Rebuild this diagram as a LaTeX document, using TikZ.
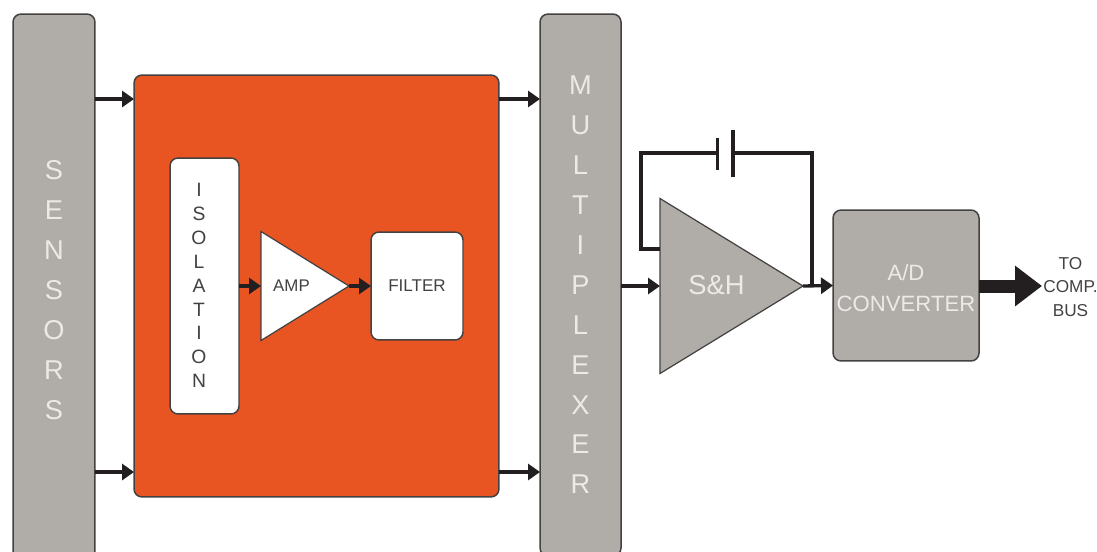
\documentclass[tikz,border=0pt]{standalone}
\usepackage{fontspec}
\setmainfont{Liberation Sans}
\usetikzlibrary{arrows.meta, shapes.geometric}

\definecolor{panelgrey}{HTML}{B0ADA8}
\definecolor{boardorange}{HTML}{E95522}
\definecolor{inkdark}{HTML}{231F20}
\definecolor{labelwhite}{HTML}{ECEAE6}

\tikzset{
	block/.style={draw=inkdark!85, line width=0.85pt, rounded corners=0.16cm, inner sep=0pt, outer sep=0pt, align=center},
	greyblock/.style={block, fill=panelgrey, text=labelwhite},
	whiteblock/.style={block, fill=white, text=inkdark!85},
	amptri/.style={draw=inkdark!85, line width=0.7pt, isosceles triangle, isosceles triangle stretches, inner sep=0pt, outer sep=0pt, anchor=apex},
	wire/.style={draw=inkdark, line width=1.9pt, -{Triangle[length=0.24cm, width=0.32cm]}},
	plainwire/.style={draw=inkdark, line width=1.9pt},
	lightlabel/.style={text=labelwhite, inner sep=0pt, align=center},
	darklabel/.style={text=inkdark!85, inner sep=0pt, align=center},
}

\begin{document}
\begin{tikzpicture}[x=0.02cm, y=-0.02cm]

		\clip (0, 0) rectangle (1097, 551);

		% Signal rows
		\def\ytop{99}
		\def\ybot{472}
		\def\ymid{286}

		% --- Outer columns ---
		\node[greyblock, minimum width=1.64cm, minimum height=11.04cm, font=\fontsize{15.5}{22.7}\selectfont] (sensors) at (54, 290) {S\\E\\N\\S\\O\\R\\S};
		\node[greyblock, minimum width=1.62cm, minimum height=10.84cm, font=\fontsize{15.5}{22.7}\selectfont] (mux) at (580.5, 285) {M\\U\\L\\T\\I\\P\\L\\E\\X\\E\\R};

		% --- Orange board ---
		\node[block, fill=boardorange, minimum width=7.3cm, minimum height=8.44cm] (board) at (316.5, 286) {};
		\node[whiteblock, minimum width=1.38cm, minimum height=5.12cm] (isolation) at (204.5, 286) {};
		\node[darklabel, font=\fontsize{11}{13.6}\selectfont] (isolabel) at (199, 285.5) {I\\S\\O\\L\\A\\T\\I\\O\\N};
		\node[amptri, fill=white, minimum width=2.18cm, minimum height=1.76cm] (amp) at (349, \ymid) {};
		\node[darklabel, font=\fontsize{9.6}{12}\selectfont] (amplabel) at (291.5, \ymid) {AMP};
		\node[whiteblock, minimum width=1.84cm, minimum height=2.16cm, font=\fontsize{9.7}{12}\selectfont] (filter) at (417, \ymid) {FILTER};

		% --- Sample and hold, converter ---
		\node[amptri, fill=panelgrey, minimum width=3.5cm, minimum height=2.86cm] (sh) at (803, \ymid) {};
		\node[lightlabel, font=\fontsize{15.6}{18}\selectfont] (shlabel) at (716.5, 285) {S\&H};
		\node[greyblock, minimum width=2.92cm, minimum height=3.02cm] (adc) at (906, 285.5) {};
		\node[lightlabel, font=\fontsize{12.6}{17.6}\selectfont] (adclabel) at (906, 288) {A/D\\CONVERTER};
		\node[darklabel, font=\fontsize{9.8}{13.6}\selectfont] (bus) at (1070.5, 287) {TO\\COMP.\\BUS};

		% --- Arrows ---
		\coordinate (sensorsTop) at (sensors.east |- 0, \ytop);
		\coordinate (boardTop) at (board.west |- 0, \ytop);
		\coordinate (boardTopOut) at (board.east |- 0, \ytop);
		\coordinate (muxTop) at (mux.west |- 0, \ytop);
		\coordinate (sensorsBot) at (sensors.east |- 0, \ybot);
		\coordinate (boardBot) at (board.west |- 0, \ybot);
		\coordinate (boardBotOut) at (board.east |- 0, \ybot);
		\coordinate (muxBot) at (mux.west |- 0, \ybot);
		\coordinate (isoOut) at (isolation.east |- 0, \ymid);
		\coordinate (ampIn) at (261, \ymid);
		\coordinate (muxOut) at (mux.east |- 0, \ymid);
		\coordinate (shIn) at (660, \ymid);
		\coordinate (adcOut) at (adc.east |- 0, \ymid);
		\coordinate (busIn) at (1042, \ymid);

		\draw[wire] (sensorsTop) -- (boardTop);
		\draw[wire] (boardTopOut) -- (muxTop);
		\draw[wire] (sensorsBot) -- (boardBot);
		\draw[wire] (boardBotOut) -- (muxBot);
		\draw[wire] (isoOut) -- (ampIn);
		\draw[wire] (amp.apex) -- (filter.west);
		\draw[wire] (muxOut) -- (shIn);
		\draw[wire] (sh.apex) -- (adc.west);
		\draw[draw=inkdark, line width=0.26cm, -{Triangle[length=0.54cm, width=0.78cm]}] (adcOut) -- (busIn);

		% --- Feedback capacitor ---
		\coordinate (fbIn) at (660, 249);
		\coordinate (fbCorner) at (641, 249);
		\coordinate (fbTop) at (641, 153);
		\coordinate (plateA) at (717.5, 153);
		\coordinate (plateB) at (733, 153);
		\coordinate (fbRight) at (812, 153);
		\coordinate (fbJoin) at (812, \ymid);
		\draw[plainwire] (fbIn) -- (fbCorner) -- (fbTop) -- (plateA);
		\draw[plainwire] (plateB) -- (fbRight) -- (fbJoin);
		\draw[plainwire] (717.5, 138) -- (717.5, 170);
		\draw[plainwire] (733, 130) -- (733, 177);

	\end{tikzpicture}
\end{document}
